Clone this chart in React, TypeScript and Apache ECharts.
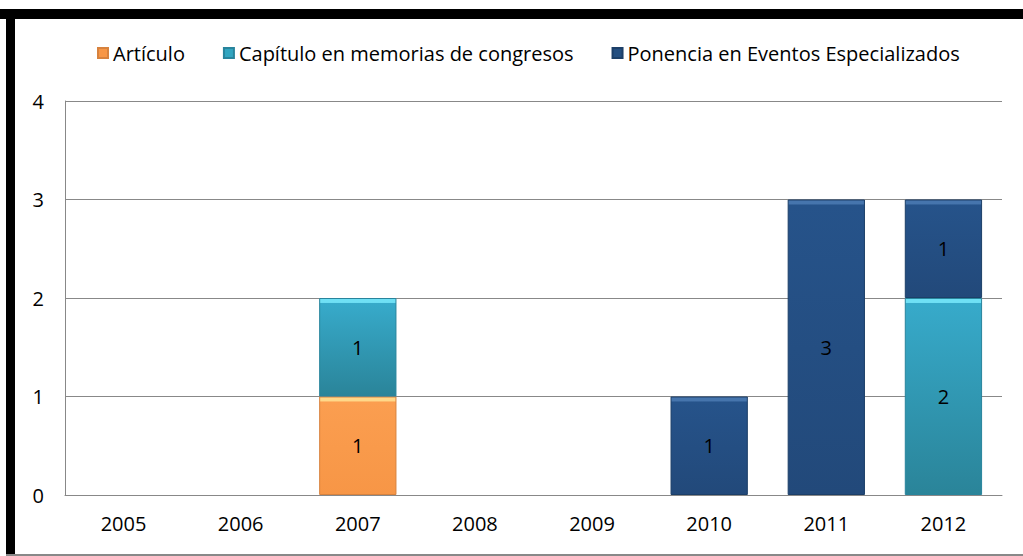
import React, { useEffect, useRef } from "react";
import * as echarts from "echarts";

const years = ["2005", "2006", "2007", "2008", "2009", "2010", "2011", "2012"];
const articulo = [0, 0, 1, 0, 0, 0, 0, 0];
const capitulo = [0, 0, 1, 0, 0, 0, 0, 2];
const ponencia = [0, 0, 0, 0, 0, 1, 3, 1];
const yTicks = { min: 0, max: 4, interval: 1 };

const FONT = "'Open Sans', 'Noto Sans', sans-serif";
const UNIT_PX = 98.5;

function grad(v: number, edge: string, top: string, bottom: string) {
  const h = v * UNIT_PX;
  const e = Math.min(0.5, 5 / h);
  return new echarts.graphic.LinearGradient(0, 0, 0, 1, [
    { offset: 0, color: edge },
    { offset: e * 0.8, color: edge },
    { offset: e, color: top },
    { offset: 1, color: bottom },
  ]);
}

export default function App() {
  const ref = useRef<HTMLDivElement>(null);
  useEffect(() => {
    document.body.style.margin = "0";
    const chart = echarts.init(ref.current!, null, { renderer: "svg" });
    const mk = (name: string, vals: number[], edge: string, top: string, bottom: string, border: string) => ({
      name,
      type: "bar",
      stack: "total",
      barWidth: "66%",
      data: vals.map((v) =>
        v ? { value: v, itemStyle: { color: grad(v, edge, top, bottom) } } : null
      ),
      itemStyle: { color: top, borderColor: border, borderWidth: 1 },
      label: {
        show: true,
        position: "inside",
        color: "#000",
        fontSize: 20,
        fontFamily: FONT,
        formatter: (p: any) => (p.value ? String(p.value) : ""),
      },
    });
    chart.setOption({
      animation: false,
      backgroundColor: "#fff",
      legend: {
        top: 38,
        left: 92,
        itemWidth: 10,
        itemHeight: 10,
        itemGap: 38,
        icon: "rect",
        textStyle: { fontSize: 20, fontFamily: FONT, color: "#000", padding: [0, 0, 0, 0] },
        data: [
          { name: "Artículo", itemStyle: { color: "#F79646" } },
          { name: "Capítulo en memorias de congresos", itemStyle: { color: "#31A5C0" } },
          { name: "Ponencia en Eventos Especializados", itemStyle: { color: "#234E80" } },
        ],
      },
      grid: { left: 65, right: 21, top: 101, bottom: 61 },
      xAxis: {
        type: "category",
        data: years,
        axisLine: { show: true, lineStyle: { color: "#888" } },
        axisTick: { show: false },
        axisLabel: { fontSize: 20, fontFamily: FONT, color: "#000", margin: 18 },
      },
      yAxis: {
        type: "value",
        ...yTicks,
        axisLine: { show: true, lineStyle: { color: "#888" } },
        axisTick: { show: false },
        splitLine: { lineStyle: { color: "#888" } },
        axisLabel: { fontSize: 20, fontFamily: FONT, color: "#000", margin: 21 },
      },
      graphic: [
        { type: "rect", shape: { x: 0, y: 9, width: 1023, height: 10 }, style: { fill: "#000" } },
        { type: "rect", shape: { x: 6, y: 9, width: 9, height: 547 }, style: { fill: "#000" } },
        { type: "rect", shape: { x: 6, y: 554, width: 1017, height: 2 }, style: { fill: "#888" } },
      ],
      series: [
        mk("Artículo", articulo, "#FFD889", "#FB9E50", "#F79646", "#D7823E"),
        mk("Capítulo en memorias de congresos", capitulo, "#6FE0F5", "#37AACA", "#2A8499", "#28849C"),
        mk("Ponencia en Eventos Especializados", ponencia, "#4675AD", "#26538A", "#22497A", "#1C3F68"),
      ],
    });
    return () => chart.dispose();
  }, []);
  return <div ref={ref} style={{ width: 1023, height: 556 }} />;
}
